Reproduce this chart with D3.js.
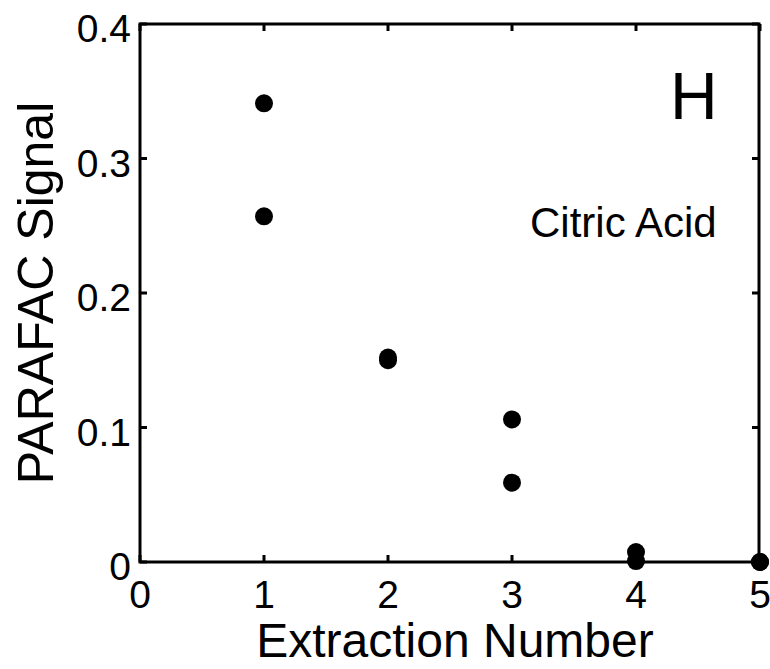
<!DOCTYPE html>
<html>
<head>
<meta charset="utf-8">
<script src="https://cdn.jsdelivr.net/npm/d3@7"></script>
<style>
  body { margin: 0; background: #fff; }
  text { font-family: "Liberation Sans", Arial, sans-serif; fill: #000; }
</style>
</head>
<body>
<svg id="svg" width="770" height="669"></svg>
<script>
// extraction number vs PARAFAC signal (two replicates each)
var extraction = [1, 1, 2, 2, 3, 3, 4, 4, 5, 5];
var signal = [0.341, 0.257, 0.152, 0.150, 0.106, 0.059, 0.0074, 0.0007, 0, 0];
var xTicks = [0, 1, 2, 3, 4, 5];
var yTicks = [0, 0.1, 0.2, 0.3, 0.4];

var svg = d3.select("#svg");

var plotLeft = 140, plotRight = 760, plotTop = 24, plotBottom = 562;

var x = d3.scaleLinear().domain([0, 5]).range([plotLeft, plotRight]);
var y = d3.scaleLinear().domain([0, 0.4]).range([plotBottom, plotTop]);

// frame
svg.append("rect")
    .attr("x", plotLeft).attr("y", plotTop)
    .attr("width", plotRight - plotLeft - 1).attr("height", plotBottom - plotTop)
    .attr("fill", "none").attr("stroke", "#000").attr("stroke-width", 3);

var tickLen = 7;

// x ticks, inward at bottom and top
xTicks.forEach(function(t){
  svg.append("line").attr("x1", x(t)).attr("x2", x(t))
      .attr("y1", plotBottom).attr("y2", plotBottom - tickLen)
      .attr("stroke", "#000").attr("stroke-width", 3);
  svg.append("line").attr("x1", x(t)).attr("x2", x(t))
      .attr("y1", plotTop).attr("y2", plotTop + tickLen)
      .attr("stroke", "#000").attr("stroke-width", 3);
  svg.append("text").attr("x", x(t)).attr("y", 608)
      .attr("text-anchor", "middle").attr("font-size", 39)
      .text(t);
});

// y ticks, inward at left and right
yTicks.forEach(function(t){
  svg.append("line").attr("x1", plotLeft).attr("x2", plotLeft + tickLen)
      .attr("y1", y(t)).attr("y2", y(t))
      .attr("stroke", "#000").attr("stroke-width", 3);
  svg.append("line").attr("x1", plotRight - 1).attr("x2", plotRight - 1 - tickLen)
      .attr("y1", y(t)).attr("y2", y(t))
      .attr("stroke", "#000").attr("stroke-width", 3);
  svg.append("text").attr("x", 131).attr("y", y(t) + 18)
      .attr("text-anchor", "end").attr("font-size", 39)
      .text(t === 0 ? "0" : d3.format(".1f")(t));
});

// points
svg.selectAll("circle.pt")
  .data(extraction)
  .enter().append("circle")
    .attr("class", "pt")
    .attr("cx", function(d){ return x(d); })
    .attr("cy", function(d, i){ return y(signal[i]); })
    .attr("r", 9)
    .attr("fill", "#000");

// axis titles
svg.append("text").attr("x", (plotLeft + plotRight) / 2 + 5).attr("y", 657)
    .attr("text-anchor", "middle").attr("font-size", 48)
    .text("Extraction Number");

svg.append("text")
    .attr("transform", "translate(53," + 293 + ") rotate(-90)")
    .attr("text-anchor", "middle").attr("font-size", 50)
    .text("PARAFAC Signal");

// annotations
svg.append("text").attr("x", 670).attr("y", 119)
    .attr("font-size", 66).text("H");

svg.append("text").attr("x", 530).attr("y", 237)
    .attr("font-size", 42).text("Citric Acid");
</script>
</body>
</html>
